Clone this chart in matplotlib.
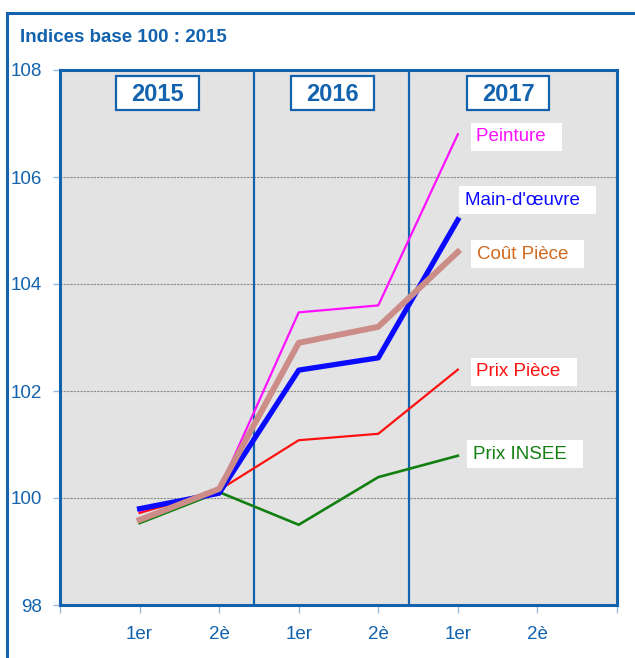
import matplotlib
matplotlib.use("Agg")
import matplotlib.pyplot as plt
from matplotlib.patches import Rectangle

plt.rcParams['font.family'] = ['Liberation Sans', 'DejaVu Sans']

# semesters (1er / 2è) for 2015-2017
x_labels = ['1er', '2è', '1er', '2è', '1er', '2è']
years = ['2015', '2016', '2017']

peinture = [99.76, 100.15, 103.47, 103.6, 106.8]
main_oeuvre = [99.8, 100.09, 102.39, 102.62, 105.2]
cout_piece = [99.59, 100.17, 102.9, 103.2, 104.6]
prix_piece = [99.72, 100.15, 101.08, 101.2, 102.4]
prix_insee = [99.53, 100.11, 99.5, 100.39, 100.79]

blue = '#1262ad'

fig = plt.figure(figsize=(6.35, 6.58), dpi=100)
ax = fig.add_axes([60 / 635, 53 / 658, 557 / 635, 535 / 658])
ax.set_facecolor('#e3e3e3')

xs = range(1, len(peinture) + 1)
ax.plot(xs, prix_insee, color='#118011', lw=1.9, zorder=3)
ax.plot(xs, prix_piece, color='#ff1010', lw=1.6, zorder=3)
ax.plot(xs, peinture, color='#ff10ff', lw=1.6, zorder=4)
ax.plot(xs, main_oeuvre, color='#0a0aff', lw=3.8, zorder=5)
ax.plot(xs, cout_piece, color='#cc8c88', lw=4.3, zorder=6)

ax.set_xlim(0, 7)
ax.set_ylim(98, 108)
ax.set_yticks(range(98, 109, 2))
ax.set_xticks(range(0, 8))
ax.set_xticklabels([''] + x_labels + [''])
ax.tick_params(axis='x', colors='#9ab8d8', length=6, width=1, pad=9, labelcolor=blue, labelsize=13.5)
ax.tick_params(axis='y', colors='#9ab8d8', length=5, width=1, pad=8, labelcolor=blue, labelsize=13.5)

for y in range(100, 108, 2):
    ax.axhline(y, color='#8a8a8a', lw=0.8, ls=(0, (2, 1)), zorder=1)

for s in ax.spines.values():
    s.set_color(blue)
    s.set_linewidth(2.2)

# year separators
for xv in [2.44, 4.38]:
    ax.axvline(xv, color=blue, lw=1.6, zorder=2)

# year boxes
year_x = [1.225, 3.42, 5.63]
box_w, box_h = 1.04, 0.62
for yx, yr in zip(year_x, years):
    ax.add_patch(Rectangle((yx - box_w / 2, 107.57 - box_h / 2), box_w, box_h, fc='white',
                           ec=blue, lw=1.6, zorder=7))
    ax.text(yx, 107.55, yr, color=blue, fontsize=17, fontweight='bold', ha='center', va='center',
            zorder=8)

# series labels
labels = [('Peinture', 106.75, '#ff10ff'), ("Main-d'œuvre", 105.57, '#0a0aff'),
          ('Coût Pièce', 104.56, '#d2691e'), ('Prix Pièce', 102.36, '#ff1010'),
          ('Prix INSEE', 100.82, '#118011')]
lx = [5.23, 5.09, 5.24, 5.23, 5.19]
for (txt, yv, col), xv in zip(labels, lx):
    ax.text(xv, yv, txt + '  ', color=col, fontsize=13.5, ha='left', va='center',
            bbox=dict(boxstyle='square,pad=0.3', fc='white', ec='none'), zorder=7)

fig.text(20 / 635, 1 - 38 / 658, 'Indices base 100 : 2015', color=blue, fontsize=13.5,
         fontweight='bold', ha='left', va='center')

# outer frame
fig.patches.append(Rectangle((7 / 635, -0.5), 2, 1.5 - 13 / 658, transform=fig.transFigure,
                             fill=False, ec=blue, lw=2.2, clip_on=False))

fig.savefig('out.png', dpi=100)
